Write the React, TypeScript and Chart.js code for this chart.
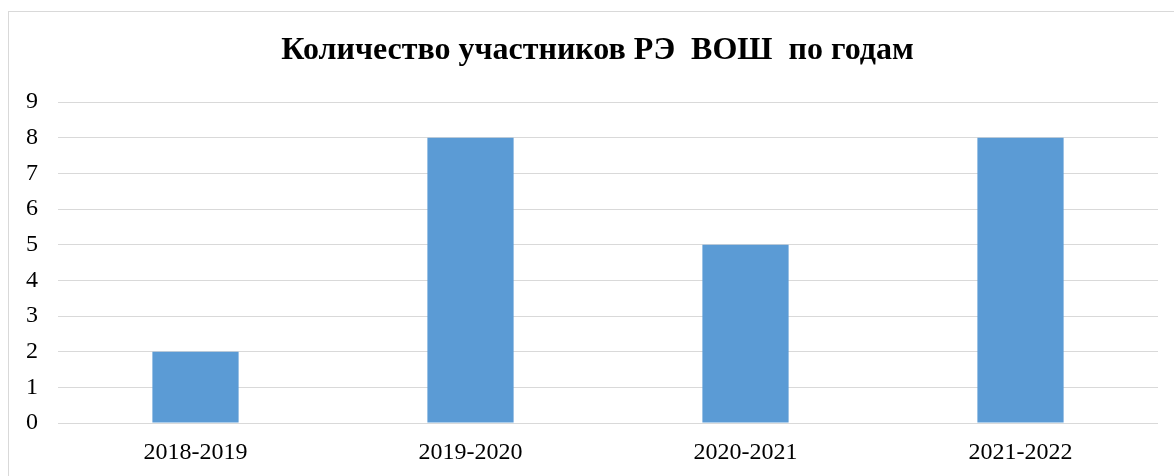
import React, { useEffect, useRef } from "react";
import { Chart, registerables } from "chart.js";

Chart.register(...registerables);

const titleText = "Количество участников РЭ  ВОШ  по годам";
const categories = ["2018-2019", "2019-2020", "2020-2021", "2021-2022"];
const participants = [2, 8, 5, 8];
const yMax = 9;

const FONT = '"Liberation Serif", "Times New Roman", serif';

const titlePlugin = {
  id: "centeredTitle",
  afterDraw(chart: any) {
    const ctx = chart.ctx;
    ctx.save();
    ctx.font = `bold 32px ${FONT}`;
    ctx.fillStyle = "#000000";
    ctx.textAlign = "center";
    ctx.textBaseline = "middle";
    ctx.fillText(titleText, 597.5, 51);
    ctx.restore();
  },
};

export default function App() {
  const canvasRef = useRef<HTMLCanvasElement | null>(null);

  useEffect(() => {
    const canvas = canvasRef.current;
    if (!canvas) return;
    const chart = new Chart(canvas, {
      type: "bar",
      data: {
        labels: categories,
        datasets: [
          {
            data: participants,
            backgroundColor: "#5B9BD5",
            borderWidth: 0,
            categoryPercentage: 1,
            barPercentage: 0.3135,
          },
        ],
      },
      plugins: [titlePlugin],
      options: {
        responsive: false,
        animation: false,
        devicePixelRatio: 1,
        layout: { padding: { top: 102, left: 10, right: 16, bottom: 0 } },
        plugins: {
          legend: { display: false },
          tooltip: { enabled: false },
          title: { display: false },
        },
        scales: {
          x: {
            grid: { display: false, drawTicks: false },
            border: { display: false },
            ticks: {
              color: "#000000",
              font: { family: FONT, size: 24, lineHeight: 1.2 },
              padding: 15,
              maxRotation: 0,
            },
            afterFit: (scale: any) => {
              scale.height = 53;
            },
          },
          y: {
            min: 0,
            max: yMax,
            grid: { color: "#D9D9D9", lineWidth: 1, drawTicks: false },
            border: { display: false },
            ticks: {
              stepSize: 1,
              color: "#000000",
              font: { family: FONT, size: 24 },
              padding: 20,
            },
            afterFit: (scale: any) => {
              scale.width = 48;
            },
          },
        },
      },
    });
    return () => chart.destroy();
  }, []);

  return (
    <div
      style={{
        position: "fixed",
        left: 0,
        top: 0,
        width: 1174,
        height: 476,
        overflow: "hidden",
        background: "#ffffff",
      }}
    >
      <div
        style={{
          position: "absolute",
          left: 8,
          top: 11,
          width: 1200,
          height: 500,
          border: "1.5px solid #D9D9D9",
          boxSizing: "border-box",
        }}
      />
      <canvas
        ref={canvasRef}
        width={1174}
        height={476}
        style={{ position: "absolute", left: 0, top: 0 }}
      />
    </div>
  );
}
